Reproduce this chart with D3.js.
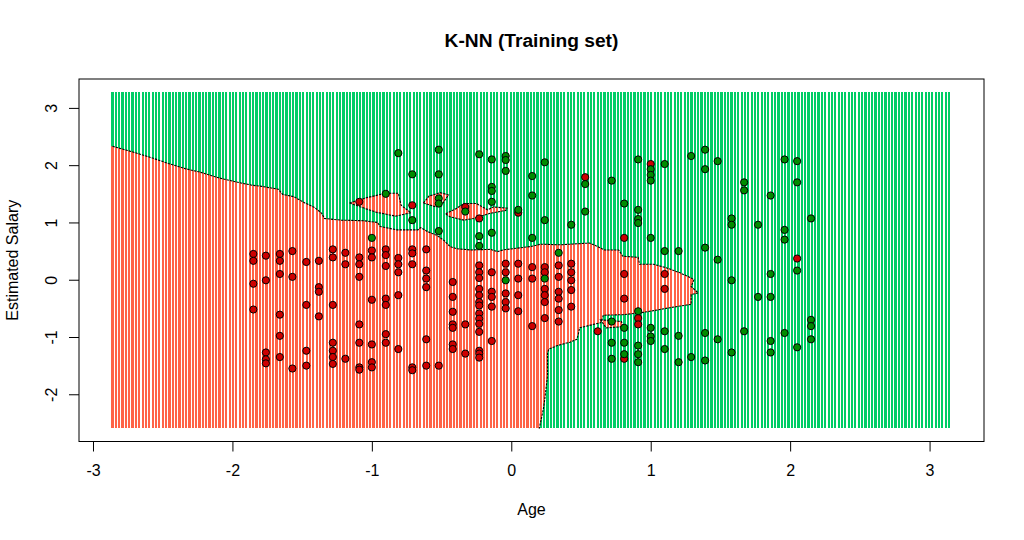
<!DOCTYPE html>
<html>
<head>
<meta charset="utf-8">
<script src="https://cdn.jsdelivr.net/npm/d3@7"></script>
<style>
  body { margin: 0; background: #fff; }
  text { font-family: "Liberation Sans", Arial, sans-serif; fill: #000; }
</style>
</head>
<body>
<svg id="chart" width="1024" height="540"></svg>
<script>
// training set (scaled Age / EstimatedSalary), class 0 = red, class 1 = green
var redAge = [
  -1.85,-1.85,-1.76,-1.66,-1.66,-1.57,-1.47,-1.38,-1.28,-1.28,
  -1.19,-1.19,-1.09,-1.09,-1.00,-1.00,-0.90,-0.90,-0.90,-0.81,
  -0.81,-0.81,-0.71,-0.71,-0.71,-0.61,-0.61,-0.61,-0.61,-1.85,
  -1.76,-1.66,-1.57,-1.38,-1.38,-1.09,-1.00,-0.90,-0.90,-0.81,
  -1.85,-1.66,-1.47,-1.28,-1.38,-1.09,-1.66,-0.90,-0.90,-1.28,
  -1.09,-1.00,-0.81,-0.61,-1.76,-1.76,-1.76,-1.66,-1.47,-1.28,
  -1.28,-1.28,-1.19,-1.57,-1.47,-1.09,-1.09,-1.00,-1.00,-0.71,
  -0.71,-0.61,-0.52,-1.09,-0.71,-0.33,0.05,-0.23,0.53,0.81,
  -0.23,-0.23,-0.23,-0.04,-0.04,0.05,0.15,0.15,0.24,0.24,
  0.34,0.34,0.43,0.43,0.43,-0.14,0.05,-0.42,0.81,-0.23,
  -0.23,-0.23,-0.23,-0.14,-0.14,-0.04,-0.04,-0.04,0.05,0.05,
  0.24,0.24,0.24,0.34,0.34,0.34,0.43,0.43,-0.42,-0.42,
  -0.14,0.81,-0.23,-0.23,-0.23,-0.23,-0.42,-0.42,-0.33,0.15,
  0.24,0.34,-0.14,-0.42,-0.42,-0.33,-0.23,-0.23,-0.23,0.62,
  0.81,1.00,2.05,1.10,1.10,0.91,0.91
];
var redSalary = [
  0.45,0.33,0.42,0.45,0.33,0.50,0.31,0.33,0.53,0.39,
  0.47,0.27,0.39,0.27,0.51,0.39,0.53,0.43,0.24,0.38,
  0.27,0.13,0.53,0.46,0.27,0.53,0.16,0.02,-0.13,-0.07,
  -0.01,0.10,0.05,-0.13,-0.21,0.05,-0.35,-0.33,-0.44,-0.27,
  -0.52,-0.61,-0.44,-0.44,-0.64,-0.78,-0.98,-0.95,-1.10,-1.10,
  -1.10,-1.13,-1.21,-1.04,-1.27,-1.39,-1.46,-1.35,-1.24,-1.24,
  -1.35,-1.47,-1.38,-1.55,-1.50,-1.53,-1.57,-1.44,-1.53,-1.53,
  -1.58,-1.50,-1.50,1.36,1.30,1.27,1.17,1.07,1.79,0.73,
  0.25,0.13,0.03,0.28,0.13,0.28,0.22,0.02,0.22,0.13,
  0.25,0.05,0.28,0.13,-0.01,0.13,0.02,-0.04,0.10,-0.16,
  -0.27,-0.39,-0.45,-0.21,-0.30,-0.24,-0.39,-0.50,-0.27,-0.55,
  -0.16,-0.27,-0.39,-0.21,-0.33,-0.53,-0.18,-0.47,-0.30,-0.56,
  -0.47,-0.33,-0.59,-0.68,-0.77,-0.91,-0.78,-0.84,-0.78,-0.81,
  -0.67,-0.73,-1.07,-1.13,-1.21,-1.29,-1.24,-1.29,-1.36,-0.90,
  -1.38,2.02,0.37,0.10,-0.16,-0.67,-0.78
];
var greenAge = [
  -0.81,-0.71,-0.90,-0.71,-1.00,-0.52,-0.23,-0.14,-0.04,-0.04,
  -0.04,0.24,-0.52,0.15,0.53,0.72,-0.14,-0.14,0.15,-0.52,
  -0.52,-0.14,0.81,-0.33,0.05,0.53,0.24,0.43,-0.52,-0.23,
  -0.14,0.15,-0.23,0.34,-0.04,0.24,0.72,0.81,0.72,0.81,
  0.72,0.81,0.91,1.00,1.00,1.00,1.10,1.29,1.39,1.39,
  1.48,1.67,1.67,1.86,1.96,2.05,2.05,0.91,0.91,0.91,
  1.58,1.58,1.77,1.96,1.96,2.15,1.00,1.10,1.20,1.39,
  1.48,2.05,1.58,1.86,1.77,1.86,0.91,1.00,1.00,1.00,
  1.10,1.10,1.20,1.39,1.48,1.67,1.86,1.86,1.96,2.05,
  2.15,2.15,2.15,0.91,0.91,0.91,1.20,1.29,1.39,1.58
];
var greenSalary = [
  2.21,1.84,1.50,1.04,0.73,2.27,2.19,2.10,2.16,2.09,
  1.90,2.05,1.84,1.81,1.67,1.73,1.62,1.55,1.47,1.42,
  1.33,1.36,1.33,1.19,1.22,1.19,1.04,0.96,0.85,0.76,
  0.82,0.73,0.59,0.47,-0.01,0.02,-0.73,-0.84,-1.10,-1.10,
  -1.38,-1.30,2.10,1.93,1.83,1.73,2.02,2.16,2.27,1.93,
  2.07,1.70,1.56,1.47,2.10,2.07,1.70,1.22,1.06,0.99,
  1.07,0.96,0.96,0.87,0.70,1.07,0.73,0.50,0.50,0.56,
  0.35,0.16,-0.01,0.10,-0.30,-0.30,-0.55,-0.84,-0.99,-1.07,
  -0.90,-1.21,-0.98,-0.93,-1.04,-0.90,-1.07,-1.27,-0.93,-1.18,
  -0.70,-0.81,-1.04,-1.15,-1.30,-1.44,-1.44,-1.35,-1.41,-1.27
];

// prediction grid limits and column step
var gridAge = [-2.86, 3.15];
var gridSalary = [-2.59, 3.27];
var gridStep = 0.024;

// outline of the region predicted as class 0
var redBoundary = [
  [-2.86,2.33],[-2.70,2.22],[-2.58,2.13],[-2.46,2.03],[-2.34,1.94],[-2.22,1.87],[-2.10,1.78],[-1.98,1.71],[-1.86,1.65],[-1.79,1.63],
  [-1.67,1.58],[-1.64,1.49],[-1.56,1.45],[-1.48,1.34],[-1.41,1.26],[-1.36,1.16],[-1.34,1.07],[-1.22,1.04],[-1.06,1.03],[-0.96,1.00],
  [-0.94,0.93],[-0.82,0.87],[-0.67,0.87],[-0.65,0.91],[-0.60,0.84],[-0.53,0.77],[-0.48,0.68],[-0.44,0.58],[-0.39,0.54],[-0.29,0.52],
  [-0.15,0.53],[-0.10,0.49],[-0.06,0.52],[0.04,0.55],[0.14,0.58],[0.21,0.62],[0.35,0.61],[0.56,0.64],[0.59,0.61],[0.67,0.52],
  [0.77,0.52],[0.80,0.41],[0.91,0.39],[0.92,0.27],[1.02,0.27],[1.11,0.21],[1.21,0.12],[1.29,0.03],[1.31,0.00],[1.29,-0.12],
  [1.34,-0.23],[1.29,-0.26],[1.29,-0.43],[1.21,-0.46],[1.11,-0.50],[1.02,-0.54],[0.92,-0.58],[0.80,-0.61],[0.66,-0.62],[0.65,-0.70],
  [0.64,-0.75],[0.59,-0.78],[0.49,-0.84],[0.48,-0.96],[0.47,-1.04],[0.42,-1.09],[0.33,-1.15],[0.27,-1.21],[0.26,-1.27],[0.26,-1.68],
  [0.24,-2.09],[0.23,-2.26],[0.21,-2.49],[0.20,-2.60]
];
var redIslands = [
  [[-1.16,1.34],[-1.04,1.43],[-0.90,1.51],[-0.81,1.51],[-0.79,1.30],[-0.72,1.17],[-0.83,1.11],[-0.97,1.18],[-1.08,1.27]],
  [[-0.63,1.34],[-0.59,1.46],[-0.51,1.52],[-0.45,1.48],[-0.49,1.34],[-0.54,1.27]],
  [[-0.47,1.15],[-0.39,1.25],[-0.34,1.33],[-0.25,1.33],[-0.17,1.22],[-0.13,1.27],[-0.03,1.25],[-0.04,1.21],[-0.15,1.16],[-0.27,1.07],[-0.34,1.04],[-0.44,1.10]],
  [[0.64,-0.70],[0.79,-0.73],[0.80,-0.82],[0.68,-0.84]]
];

var xTicks = [-3, -2, -1, 0, 1, 2, 3];
var yTicks = [-2, -1, 0, 1, 2, 3];

var svg = d3.select("#chart");
var plotLeft = 79, plotRight = 984, plotTop = 79, plotBottom = 441.5;

// R style axis range: grid range plus 4% each side
var xPad = (gridAge[1] - gridAge[0]) * 0.04;
var yPad = (gridSalary[1] - gridSalary[0]) * 0.04;
var x = d3.scaleLinear().domain([gridAge[0] - xPad, gridAge[1] + xPad]).range([plotLeft, plotRight]);
var y = d3.scaleLinear().domain([gridSalary[0] - yPad, gridSalary[1] + yPad]).range([plotBottom, plotTop]);

var line = d3.line().x(d => x(d[0])).y(d => y(d[1]));

// clip for the red class region
var clipPoly = [[gridAge[0] - 0.1, redBoundary[0][1]]]
  .concat(redBoundary)
  .concat([[redBoundary[redBoundary.length - 1][0], gridSalary[0] - 0.1], [gridAge[0] - 0.1, gridSalary[0] - 0.1]]);

var clip = svg.append("defs").append("clipPath").attr("id", "redClip");
clip.append("path").attr("d", line(clipPoly) + "Z");
redIslands.forEach(function(isl) {
  clip.append("path").attr("d", line(isl) + "Z");
});

var cols = d3.range(gridAge[0], gridAge[1] + 1e-9, gridStep);

// green background columns
svg.append("g")
  .attr("shape-rendering", "crispEdges")
  .selectAll("line")
  .data(cols)
  .join("line")
  .attr("x1", d => x(d)).attr("x2", d => x(d))
  .attr("y1", y(gridSalary[1])).attr("y2", y(gridSalary[0]))
  .attr("stroke", "#00CD66")
  .attr("stroke-width", 2.2);

// red columns inside the class 0 region
svg.append("g")
  .attr("clip-path", "url(#redClip)")
  .attr("shape-rendering", "crispEdges")
  .selectAll("line")
  .data(cols)
  .join("line")
  .attr("x1", d => x(d)).attr("x2", d => x(d))
  .attr("y1", y(gridSalary[1])).attr("y2", y(gridSalary[0]))
  .attr("stroke", "#FF6347")
  .attr("stroke-width", 2.2);

// contour line
var contour = svg.append("g")
  .attr("fill", "none")
  .attr("stroke", "#000")
  .attr("stroke-width", 1.1)
  .attr("stroke-dasharray", "2.3,1.1");
contour.append("path").attr("d", line(redBoundary));
redIslands.forEach(function(isl) {
  contour.append("path").attr("d", line(isl) + "Z");
});

// training points
var red = redAge.map((a, i) => [a, redSalary[i]]);
var green = greenAge.map((a, i) => [a, greenSalary[i]]);

svg.append("g")
  .selectAll("circle")
  .data(red)
  .join("circle")
  .attr("cx", d => x(d[0])).attr("cy", d => y(d[1]))
  .attr("r", 3.6)
  .attr("fill", "#CD0000")
  .attr("stroke", "#000")
  .attr("stroke-width", 1);

svg.append("g")
  .selectAll("circle")
  .data(green)
  .join("circle")
  .attr("cx", d => x(d[0])).attr("cy", d => y(d[1]))
  .attr("r", 3.6)
  .attr("fill", "#008B00")
  .attr("stroke", "#000")
  .attr("stroke-width", 1);

// box
svg.append("rect")
  .attr("x", plotLeft).attr("y", plotTop)
  .attr("width", plotRight - plotLeft).attr("height", plotBottom - plotTop)
  .attr("fill", "none").attr("stroke", "#000").attr("stroke-width", 1);

// axes (R uses a plain hyphen for negatives)
var fmt = d => String(d);

var gx = svg.append("g")
  .attr("transform", "translate(0," + plotBottom + ")")
  .call(d3.axisBottom(x).tickValues(xTicks).tickSize(10).tickPadding(13).tickFormat(fmt));
gx.select(".domain").remove();
gx.selectAll("text").style("font-size", "16px").style("font-family", "Liberation Sans, Arial, sans-serif");

var gy = svg.append("g")
  .attr("transform", "translate(" + plotLeft + ",0)")
  .call(d3.axisLeft(y).tickValues(yTicks).tickSize(10).tickFormat(fmt));
gy.select(".domain").remove();
gy.selectAll("text")
  .attr("x", 0).attr("y", -22).attr("dy", 0)
  .attr("transform", "rotate(-90)")
  .attr("text-anchor", "middle")
  .style("font-size", "16px").style("font-family", "Liberation Sans, Arial, sans-serif");

// titles
svg.append("text")
  .attr("x", (plotLeft + plotRight) / 2).attr("y", 47)
  .attr("text-anchor", "middle")
  .style("font-size", "19.2px").style("font-weight", "bold")
  .text("K-NN (Training set)");

svg.append("text")
  .attr("x", (plotLeft + plotRight) / 2).attr("y", 515)
  .attr("text-anchor", "middle")
  .style("font-size", "16px")
  .text("Age");

svg.append("text")
  .attr("transform", "translate(18," + (plotTop + plotBottom) / 2 + ") rotate(-90)")
  .attr("text-anchor", "middle")
  .style("font-size", "16px")
  .text("Estimated Salary");
</script>
</body>
</html>
